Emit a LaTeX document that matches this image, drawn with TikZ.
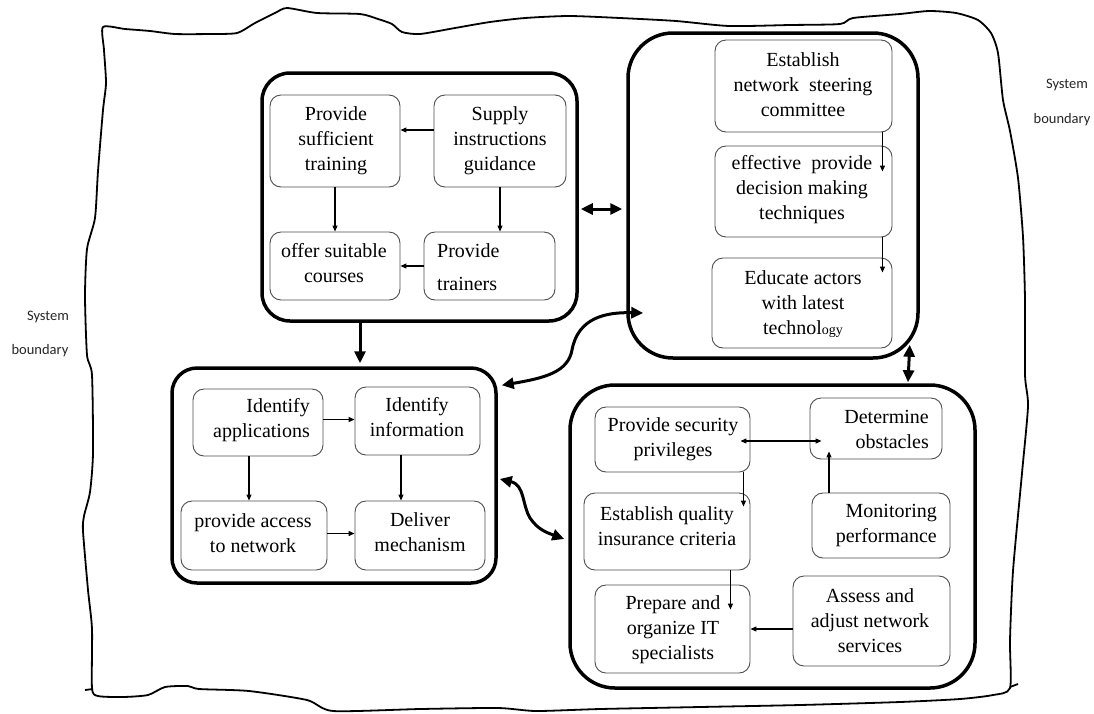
\documentclass[tikz,border=0pt]{standalone}
\usepackage{fontspec}
\setmainfont{Liberation Serif}
\newfontfamily\lblfont{Carlito}
\usetikzlibrary{arrows.meta}
\begin{document}
\begin{tikzpicture}[x=1pt,y=-1pt,
  group/.style={draw, line width=3.5pt, rounded corners=#1, inner sep=0pt},
  box/.style={draw=black!70, line width=0.9pt, rounded corners=11pt, inner sep=0pt},
  txt/.style={font=\fontsize{20}{25}\selectfont, align=center, inner sep=0pt},
  lbl/.style={font=\lblfont\fontsize{14.5}{16}\selectfont, text=black!85, inner sep=0pt},
  sarrow/.style={line width=1.1pt, -{Triangle[length=6pt,width=5pt]}},
  sdarrow/.style={line width=1.1pt, {Triangle[length=6pt,width=5pt]}-{Triangle[length=6pt,width=5pt]}},
  barrow/.style={line width=3pt, -{Triangle[length=12pt,width=11pt]}},
  bdarrow/.style={line width=3pt, {Triangle[length=12pt,width=11pt]}-{Triangle[length=12pt,width=11pt]}},
  boundary/.style={line width=1.8pt, line join=round}
]
\useasboundingbox (0,0) rectangle (1094,713);

% system boundary
\draw[boundary] plot[smooth cycle, tension=0.4] coordinates {
(103,27) (125,29) (150,31) (175,34) (210,34) (237,33) (255,23) (275,13) (287,8) (317,13) (360,14) (378,19) (392,24) (402,32) (420,34) (455,28) (490,22) (525,18) (569,16) (620,18) (676,21) (729,26) (790,25) (840,24) (853,18) (900,14) (929,11) (956,13) (978,20) (991,33) (998,53) (1003,100) (1010,131) (1018,178) (1023,237) (1025,300) (1025,375) (1028,406) (1022,473) (1013,571) (1010,640) (1010,688) (993,695) (960,699) (900,702) (800,705) (700,707) (600,709) (536,711) (498,708) (420,709) (333,711) (307,700) (249,691) (199,689) (188,686) (165,687) (148,695) (123,697) (98,696) (92,688) (92,629) (88,590) (83,531) (84,516) (90,492) (93,453) (92,375) (87,355) (85,296) (87,249) (95,218) (98,171) (103,110) (106,83) (104,50)};
\draw[boundary] (85,690) -- (93,689);
\draw[boundary] (1010,687) -- (1018,684);

\node[lbl] (ls1) at (1067,85) {System};
\node[lbl] (lb1) at (1062,120) {boundary};
\node[lbl] (ls2) at (48,317) {System};
\node[lbl] (lb2) at (40,351) {boundary};

% groups
\node[group=28pt, minimum width=315pt, minimum height=248pt] (g1) at (419.5,197) {};
\node[group=45pt, minimum width=290pt, minimum height=325pt] (g2) at (773,195.5) {};
\node[group=25pt, minimum width=324pt, minimum height=215pt] (g3) at (334,475.5) {};
\node[group=45pt, minimum width=405pt, minimum height=303pt] (g4) at (772.5,536.5) {};

% group 1 boxes
\node[box, minimum width=130pt, minimum height=92pt] (b11) at (335,141) {};
\node[box, minimum width=132pt, minimum height=92pt] (b12) at (500,141) {};
\node[box, minimum width=130pt, minimum height=68pt] (b13) at (335,266) {};
\node[box, minimum width=131pt, minimum height=68pt] (b14) at (489.5,266) {};
\node[txt] (t11) at (336,141) {Provide\\sufficient\\training};
\node[txt] (t12) at (500,141) {Supply\\instructions\\guidance};
\node[txt] (t13) at (334,263) {offer suitable\\courses};
\node[txt, align=left, anchor=west, font=\fontsize{20}{33}\selectfont] (t14) at (437,267.5) {Provide\\trainers};

% group 2 boxes
\node[box, minimum width=177pt, minimum height=92pt] (b21) at (803.5,86) {};
\node[box, minimum width=177pt, minimum height=91pt] (b22) at (803.5,191.5) {};
\node[box, minimum width=180pt, minimum height=90pt] (b23) at (802,303) {};
\node[txt] (t21) at (803,85) {Establish\\network\ \ steering\\committee};
\node[txt] (t22) at (802,190) {effective\ \ provide\\decision making\\techniques};
\node[txt] (t23) at (803,304) {Educate actors\\with latest\\technol{\fontsize{14}{25}\selectfont ogy}};

% group 3 boxes
\node[box, minimum width=130pt, minimum height=67pt] (b31) at (258,422.5) {};
\node[box, minimum width=125pt, minimum height=68pt] (b32) at (417.5,421) {};
\node[box, minimum width=146pt, minimum height=69pt] (b33) at (254,535.5) {};
\node[box, minimum width=130pt, minimum height=69pt] (b34) at (420,535.5) {};
\node[txt, align=right, anchor=east] (t31) at (310,420.5) {Identify\\applications};
\node[txt] (t32) at (417,417.5) {Identify\\information};
\node[txt] (t33) at (253,533) {provide access\\to network};
\node[txt] (t34) at (420,532.5) {Deliver\\mechanism};

% group 4 boxes
\node[box, minimum width=155pt, minimum height=65pt] (b41) at (672.5,439.5) {};
\node[box, minimum width=132pt, minimum height=61pt] (b42) at (876,428.5) {};
\node[box, minimum width=166pt, minimum height=77pt] (b43) at (667,531.5) {};
\node[box, minimum width=138pt, minimum height=65pt] (b44) at (881,525.5) {};
\node[box, minimum width=155pt, minimum height=88pt] (b45) at (672.5,629) {};
\node[box, minimum width=157pt, minimum height=90pt] (b46) at (871.5,621) {};
\node[txt] (t41) at (673,439.5) {Provide security\\privileges};
\node[txt, align=right, anchor=east] (t42) at (929,429) {Determine\\obstacles};
\node[txt] (t43) at (667,526) {Establish quality\\insurance criteria};
\node[txt, align=right, anchor=east] (t44) at (937,525) {Monitoring\\performance};
\node[txt] (t45) at (673,630) {Prepare and\\organize IT\\specialists};
\node[txt] (t46) at (870,621) {Assess and\\adjust network\\services};

% small arrows group 1
\draw[sarrow] ([yshift=11pt]b12.west) -- ([yshift=11pt]b11.east);
\draw[sarrow] (b11.south) -- (b13.north);
\draw[sarrow] (b12.south) -- (b12.south |- b14.north);
\draw[sarrow] (b14.west) -- (b13.east);

% small arrows group 2
\draw[sarrow] ([xshift=-10pt]b21.south east) -- ([xshift=-10pt,yshift=-26pt]b22.north east);
\draw[sarrow] ([xshift=-10pt]b22.south east) -- ([xshift=-10pt,yshift=-15pt]b23.north east);

% small arrows group 3
\draw[sarrow] ([yshift=3pt]b31.east) -- ([yshift=1.5pt]b32.west);
\draw[sarrow] ([xshift=-9pt]b31.south) -- ([xshift=-5pt]b33.north);
\draw[sarrow] ([xshift=-16.5pt]b32.south) -- ([xshift=-19pt]b34.north);
\draw[sarrow] ([yshift=2pt]b33.east) -- ([yshift=2pt]b34.west);

% small arrows group 4
\draw[sdarrow] ([xshift=-10pt,yshift=-1.5pt]b41.east) -- ([xshift=12pt,yshift=-12.5pt]b42.west);
\draw[sarrow] ([xshift=-52pt]b44.north) -- ([xshift=-47pt,yshift=8pt]b42.south);
\draw[sarrow] ([xshift=-7pt]b41.south east) -- ([xshift=-7pt,yshift=-14pt]b43.north east);
\draw[sarrow] ([xshift=-20pt]b43.south east) -- ([xshift=-20pt,yshift=-25pt]b45.north east);
\draw[sarrow] ([yshift=-8pt]b46.west) -- (b45.east);

% thick connectors
\draw[bdarrow] ([xshift=2pt,yshift=-12pt]g1.east) -- ([xshift=-4pt,yshift=-13.5pt]g2.west);
\draw[barrow] ([xshift=-59.5pt]g1.south) -- ([xshift=26pt,yshift=3pt]g3.north);
\draw[bdarrow] ([xshift=-10pt,yshift=15pt]g2.south east) -- ([xshift=135.5pt,yshift=1pt]g4.north);
\draw[bdarrow] ([xshift=4pt,yshift=-19pt]g3.north east) .. controls (545,378) and (568,372) .. (572,350) .. controls (578,318) and (605,312) .. ([xshift=17pt,yshift=-117.5pt]g2.west);
\draw[bdarrow] ([xshift=2pt,yshift=-3.5pt]g3.east) .. controls (525,485) and (522,505) .. (530,518) .. controls (538,530) and (548,533) .. ([xshift=-4pt,yshift=-2.5pt]g4.west);
\end{tikzpicture}
\end{document}
